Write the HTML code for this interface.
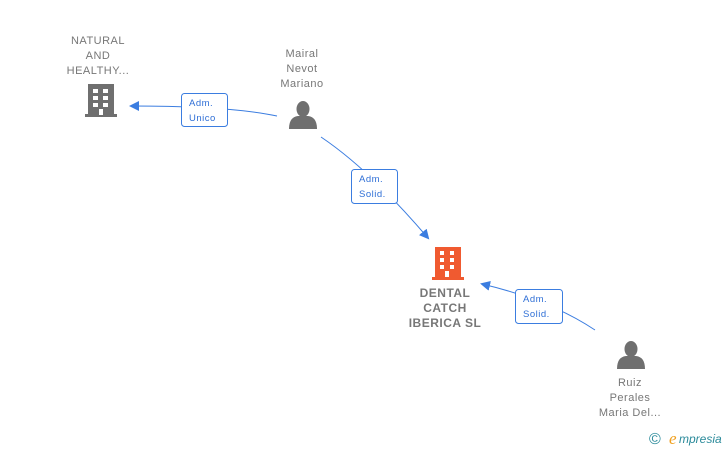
<!DOCTYPE html>
<html><head><style>
body{margin:0;background:#fff;}
svg{display:block;font-family:"Liberation Sans",sans-serif;}
.t{font-size:11px;fill:#777;text-anchor:middle;letter-spacing:0.5px}
.b{font-size:12px;fill:#777;text-anchor:middle;font-weight:bold;letter-spacing:0.5px}
.l{font-size:9.5px;fill:#2f6fd6;letter-spacing:0.5px}
</style></head><body>
<svg width="728" height="450" viewBox="0 0 728 450">
<defs><marker id="a" markerWidth="10" markerHeight="10" refX="8" refY="5" orient="auto" markerUnits="userSpaceOnUse"><path d="M0,0 L10,5 L0,10 Z" fill="#3b7de0"/></marker></defs>
<g fill="none" stroke="#3b7de0" stroke-width="1">
<path d="M277,116 Q230,106 131,106" marker-end="url(#a)"/>
<path d="M321,137 Q370,170 428,238" marker-end="url(#a)"/>
<path d="M595,330 Q550,300 482,284" marker-end="url(#a)"/>
</g>
<g fill="#fff" stroke="#3b7de0">
<rect x="181.5" y="93.5" width="46" height="33" rx="3"/>
<rect x="351.5" y="169.5" width="46" height="34" rx="3"/>
<rect x="515.5" y="289.5" width="47" height="34" rx="3"/>
</g>
<text class="l" x="189" y="106">Adm.</text><text class="l" x="189" y="121">Unico</text>
<text class="l" x="359" y="182">Adm.</text><text class="l" x="359" y="197">Solid.</text>
<text class="l" x="523" y="302">Adm.</text><text class="l" x="523" y="317">Solid.</text>
<g fill="#6f6f6f"><rect x="88" y="84" width="26" height="31"/><rect x="85" y="114" width="32" height="3"/></g>
<g fill="#fff"><rect x="93" y="89" width="5" height="4"/><rect x="103" y="89" width="5" height="4"/><rect x="93" y="96" width="5" height="4"/><rect x="103" y="96" width="5" height="4"/><rect x="93" y="103" width="5" height="4"/><rect x="103" y="103" width="5" height="4"/><rect x="99" y="109" width="4" height="6"/></g>
<g fill="#f05a30"><rect x="435" y="247" width="26" height="31"/><rect x="432" y="277" width="32" height="3"/></g>
<g fill="#fff"><rect x="440" y="251" width="4" height="4"/><rect x="450" y="251" width="4" height="4"/><rect x="440" y="258" width="4" height="4"/><rect x="450" y="258" width="4" height="4"/><rect x="440" y="265" width="4" height="4"/><rect x="450" y="265" width="4" height="4"/><rect x="445" y="271" width="4" height="6"/></g>
<g fill="#6f6f6f">
<ellipse cx="303" cy="109" rx="6.5" ry="8"/><path d="M289,129 Q289,117 298,116 L308,116 Q317,117 317,129 Z"/>
<ellipse cx="631" cy="349" rx="6.5" ry="8"/><path d="M617,369 Q617,357 626,356 L636,356 Q645,357 645,369 Z"/>
</g>
<text class="t" x="98" y="44">NATURAL</text><text class="t" x="98" y="59">AND</text><text class="t" x="98" y="74">HEALTHY...</text>
<text class="t" x="302" y="57">Mairal</text><text class="t" x="302" y="72">Nevot</text><text class="t" x="302" y="87">Mariano</text>
<text class="b" x="445" y="297">DENTAL</text><text class="b" x="445" y="312">CATCH</text><text class="b" x="445" y="327">IBERICA SL</text>
<text class="t" x="630" y="386">Ruiz</text><text class="t" x="630" y="401">Perales</text><text class="t" x="630" y="416">Maria Del...</text>
<text x="649" y="444" font-size="16" fill="#2a8a9a">©</text>
<text x="669" y="444" font-size="17" font-style="italic" fill="#f0a020" font-family="Liberation Serif,serif">e</text>
<text x="679" y="443" font-size="12" font-style="italic" fill="#2a8a9a">mpresia</text>
</svg>
</body></html>
